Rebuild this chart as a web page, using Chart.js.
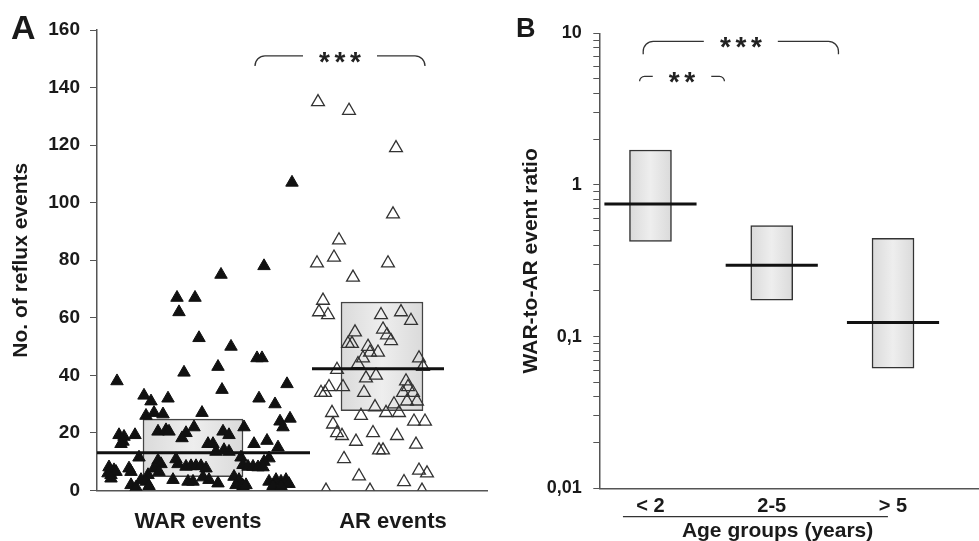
<!DOCTYPE html>
<html>
<head>
<meta charset="utf-8">
<script src="https://cdn.jsdelivr.net/npm/chart.js@4.4.1/dist/chart.umd.min.js"></script>
<style>
  html, body { margin: 0; padding: 0; background: #fff; }
  #wrap { position: relative; width: 979px; height: 541px; }
  #chartA { position: absolute; left: 0; top: 0; }
  #chartB { position: absolute; left: 500px; top: 0; }
</style>
</head>
<body>
<div id="wrap">
  <canvas id="chartA" width="500" height="541"></canvas>
  <canvas id="chartB" width="479" height="541"></canvas>
</div>
<script>
// ---- panel A data: reflux events per patient (x = jitter position) ----
const GROUPS_A = ['WAR events', 'AR events'];
const GROUP_X_A = [101, 296];
const WAR_POINTS = [
  [20, 38], [80, 67], [82, 62], [98, 67], [102, 53], [87, 41], [124, 75], [121, 43], [125, 35], [134, 50],
  [167, 78], [160, 46], [165, 46], [162, 32], [178, 30], [190, 37], [183, 24], [186, 22], [193, 25], [195, 107],
  [47, 33], [54, 31], [71, 32], [49, 26], [57, 27], [66, 26.5], [105, 27], [147, 22], [97, 22],
  [22, 19.3], [27, 18.7], [26, 17], [24, 16.2], [38, 19.3], [61, 20.5], [69, 21], [72, 20.5], [89, 20], [85, 18.2],
  [126, 20.5], [132, 19.3], [111, 16.2], [116, 16.2], [157, 16.2], [170, 17.3], [181, 15],
  [42, 11.5], [119, 13.5], [127, 14.1], [132, 13.5], [144, 11.5], [172, 11.2], [167, 10],
  [61, 10.4], [64, 9.2], [79, 10.9], [81, 9.2], [94, 8.5], [99, 8.5], [104, 8.5], [89, 8.3], [109, 7.7],
  [12, 8.1], [17, 7.1], [14, 5.4], [19, 6.5], [11, 6], [14, 4.2], [32, 7.7], [34, 6.5], [51, 5.4], [57, 7.7], [62, 6.5],
  [146, 8.9], [151, 8.3], [156, 8.3], [161, 8.1], [166, 8.1],
  [76, 3.7], [91, 3.1], [96, 3.1], [106, 4.6], [112, 3.7], [121, 2.5],
  [34, 1.9], [39, 1.1], [44, 3.7], [49, 3.1], [52, 1.6],
  [137, 4.8], [142, 3.7], [139, 1.9], [146, 1.6], [149, 1.9],
  [172, 3.1], [179, 3.7], [184, 3.1], [189, 3.7], [192, 2.3], [176, 1.6], [184, 1.6]
];
const AR_POINTS = [
  [221, 135], [252, 132], [299, 119], [296, 96], [242, 87], [220, 79], [237, 81], [291, 79], [256, 74], [226, 66],
  [222, 62], [231, 61], [284, 61], [304, 62], [314, 59], [258, 55], [286, 56], [290, 54], [294, 52], [251, 51],
  [255, 51], [271, 50], [273, 48], [281, 48], [266, 46], [322, 46], [261, 44], [326, 43], [240, 42], [269, 39],
  [279, 40], [232, 36], [224, 34], [228, 34], [246, 36], [267, 34], [309, 38], [311, 36], [306, 34], [316, 34],
  [310, 31], [320, 31], [297, 30], [278, 29], [289, 27], [302, 27], [264, 26], [235, 27], [236, 23], [317, 24],
  [328, 24], [240, 20], [245, 19], [276, 20], [300, 19], [259, 17], [282, 14], [286, 14], [319, 16], [247, 11],
  [262, 5], [307, 3], [322, 7], [330, 6], [229, 0], [273, 0], [325, 0]
];
const BOX_X_A = [96, 285];
const BOX_A = [[4.8, 24.8], [27.7, 65.5]];
const MEDIAN_A = [13.1, 42.3];
const MEDIAN_SPAN_A = [[0, 213], [215, 347]];
const SIG_A = [{ from: 158, to: 328, y: 151, label: '***' }];

// ---- panel B data: WAR-to-AR ratio by age group ----
const AGE_GROUPS = ['< 2', '2-5', '> 5'];
const AGE_X = [1, 2, 3];
const BOX_B = [[0.424, 1.70], [0.174, 0.54], [0.0619, 0.445]];
const MEDIAN_B = [0.75, 0.296, 0.124];
const DECADES = [0.01, 0.1, 1, 10];
const DECADE_LABELS = ['0,01', '0,1', '1', '10'];
const SIG_B = [
  { from: 0.94, to: 2.55, y: 8.85, label: '***' },
  { from: 0.91, to: 1.61, y: 5.2, label: '**' }
];

const FONT = '"Liberation Sans", Arial, sans-serif';
const INK = '#1a1a1a';
const AXIS = '#555';
Chart.defaults.font.family = FONT;
Chart.defaults.color = INK;

function boxFill(ctx, center, width) {
  const chart = ctx.chart;
  if (!chart.chartArea) return '#e4e4e4';
  const px = chart.scales.x.getPixelForValue(center);
  const g = chart.ctx.createLinearGradient(px - width / 2, 0, px + width / 2, 0);
  g.addColorStop(0, '#dadada');
  g.addColorStop(0.5, '#eeeeee');
  g.addColorStop(1, '#dadada');
  return g;
}

function drawBracket(ctx, x1, x2, y, drop, radius, label) {
  const r = Math.min(radius, drop);
  const cx = (x1 + x2) / 2;
  const pitch = 15.5;
  const half = (label.length - 1) / 2 * pitch + 21.5;
  ctx.save();
  ctx.strokeStyle = '#333';
  ctx.lineWidth = 1.3;
  ctx.beginPath();
  ctx.moveTo(x1, y + drop);
  ctx.lineTo(x1, y + r);
  ctx.arcTo(x1, y, x1 + r, y, r);
  ctx.lineTo(cx - half, y);
  ctx.moveTo(cx + half, y);
  ctx.lineTo(x2 - r, y);
  ctx.arcTo(x2, y, x2, y + r, r);
  ctx.lineTo(x2, y + drop);
  ctx.stroke();
  ctx.fillStyle = '#222';
  ctx.font = 'bold 28px ' + FONT;
  ctx.textAlign = 'center';
  ctx.textBaseline = 'alphabetic';
  for (let i = 0; i < label.length; i++) {
    ctx.fillText(label[i], cx + (i - (label.length - 1) / 2) * pitch, y + 15);
  }
  ctx.restore();
}

const panelA = {
  id: 'panelA',
  afterDraw(chart) {
    const { ctx, scales: { x, y } } = chart;
    SIG_A.forEach(s => drawBracket(ctx, x.getPixelForValue(s.from), x.getPixelForValue(s.to), y.getPixelForValue(s.y), 10, 10, s.label));
    ctx.save();
    ctx.fillStyle = INK;
    ctx.font = 'bold 34px ' + FONT;
    ctx.textAlign = 'left';
    ctx.fillText('A', 11, 39);
    ctx.restore();
  }
};

const panelB = {
  id: 'panelB',
  afterDraw(chart) {
    const { ctx, scales: { x, y } } = chart;
    const drops = [13, 5];
    const radii = [10, 6];
    SIG_B.forEach((s, i) => drawBracket(ctx, x.getPixelForValue(s.from), x.getPixelForValue(s.to), y.getPixelForValue(s.y), drops[i], radii[i], s.label));
    ctx.save();
    ctx.fillStyle = INK;
    ctx.font = 'bold 27px ' + FONT;
    ctx.textAlign = 'left';
    ctx.fillText('B', 16, 37);
    // underline + title of the age axis
    const base = x.top;
    ctx.strokeStyle = '#333';
    ctx.lineWidth = 1.3;
    ctx.beginPath();
    ctx.moveTo(x.getPixelForValue(0.773), base + 28.4);
    ctx.lineTo(x.getPixelForValue(2.958), base + 28.4);
    ctx.stroke();
    ctx.font = 'bold 21px ' + FONT;
    ctx.textAlign = 'center';
    ctx.textBaseline = 'middle';
    ctx.fillText('Age groups (years)', x.getPixelForValue(2.048), base + 43);
    ctx.restore();
  }
};

// ---------------- Panel A ----------------
new Chart(document.getElementById('chartA'), {
  type: 'scatter',
  data: {
    datasets: [
      ...MEDIAN_A.map((m, i) => ({
        type: 'line',
        data: MEDIAN_SPAN_A[i].map(v => ({ x: v, y: m })),
        borderColor: '#111',
        borderWidth: 3,
        pointRadius: 0,
        order: 0
      })),
      {
        label: 'WAR',
        data: WAR_POINTS.map(([x, y]) => ({ x, y })),
        pointStyle: 'triangle',
        pointRadius: 7.2,
        backgroundColor: '#111',
        borderColor: '#111',
        borderWidth: 1,
        order: 1
      },
      {
        label: 'AR',
        data: AR_POINTS.map(([x, y]) => ({ x, y })),
        pointStyle: 'triangle',
        pointRadius: 7.4,
        backgroundColor: 'rgba(255,255,255,0)',
        borderColor: '#333',
        borderWidth: 1.3,
        order: 1
      },
      ...BOX_A.map((b, i) => ({
        type: 'bar',
        data: [{ x: BOX_X_A[i], y: b }],
        grouped: false,
        barThickness: [100, 82][i],
        backgroundColor: ctx => boxFill(ctx, BOX_X_A[i], [100, 82][i]),
        borderColor: '#444',
        borderWidth: 1.5,
        borderSkipped: false,
        order: 2
      }))
    ]
  },
  options: {
    responsive: false,
    animation: false,
    devicePixelRatio: 1,
    layout: { padding: { top: 30, right: 13, left: 0, bottom: 0 } },
    plugins: { legend: { display: false }, tooltip: { enabled: false } },
    scales: {
      x: {
        type: 'linear',
        min: 0,
        max: 390,
        offset: false,
        afterBuildTicks: s => { s.ticks = GROUP_X_A.map(v => ({ value: v })); },
        afterFit: s => { s.height = 50.5; },
        grid: { display: false, drawTicks: false, offset: false },
        border: { display: true, color: AXIS, width: 1.5 },
        ticks: {
          autoSkip: false,
          maxRotation: 0,
          padding: 18,
          color: INK,
          font: { size: 22, weight: 'bold' },
          callback: (v, i) => GROUPS_A[i]
        }
      },
      y: {
        min: 0,
        max: 160,
        afterFit: s => { s.width = 97; },
        grid: { drawOnChartArea: false, tickLength: 7, color: AXIS },
        border: { color: AXIS, width: 1.5 },
        ticks: { stepSize: 20, padding: 10, color: INK, font: { size: 19, weight: 'bold' } },
        title: {
          display: true,
          text: 'No. of reflux events',
          color: INK,
          padding: { top: 9, bottom: 0 },
          font: { size: 21, weight: 'bold' }
        }
      }
    }
  },
  plugins: [panelA]
});

// ---------------- Panel B ----------------
const MEDIAN_HALF_B = 0.38;
new Chart(document.getElementById('chartB'), {
  type: 'scatter',
  data: {
    datasets: [
      ...MEDIAN_B.map((m, i) => ({
        type: 'line',
        data: [{ x: AGE_X[i] - MEDIAN_HALF_B, y: m }, { x: AGE_X[i] + MEDIAN_HALF_B, y: m }],
        borderColor: '#111',
        borderWidth: 3,
        pointRadius: 0,
        order: 0
      })),
      {
        type: 'bar',
        data: AGE_X.map((x, i) => ({ x, y: BOX_B[i] })),
        grouped: false,
        barThickness: 42,
        backgroundColor: ctx => boxFill(ctx, AGE_X[ctx.dataIndex], 42),
        borderColor: '#333',
        borderWidth: 1.5,
        borderSkipped: false,
        order: 1
      }
    ]
  },
  options: {
    responsive: false,
    animation: false,
    devicePixelRatio: 1,
    layout: { padding: { top: 33.3, right: 0, left: 0, bottom: 0 } },
    plugins: { legend: { display: false }, tooltip: { enabled: false } },
    scales: {
      x: {
        type: 'linear',
        min: 0.578,
        max: 3.709,
        offset: false,
        afterBuildTicks: s => { s.ticks = AGE_X.map(v => ({ value: v })); },
        afterFit: s => { s.height = 52.7; },
        grid: { display: false, drawTicks: false, offset: false },
        border: { display: true, color: AXIS, width: 1.5 },
        ticks: {
          autoSkip: false,
          maxRotation: 0,
          padding: 6.5,
          color: INK,
          font: { size: 20, weight: 'bold' },
          callback: (v, i) => AGE_GROUPS[i]
        }
      },
      y: {
        type: 'logarithmic',
        min: 0.01,
        max: 10,
        afterBuildTicks: s => {
          const t = [];
          DECADES.slice(0, -1).forEach(d => { for (let k = 1; k < 10; k++) t.push({ value: d * k }); });
          t.push({ value: DECADES[DECADES.length - 1] });
          s.ticks = t;
        },
        afterFit: s => { s.width = 99.3; },
        grid: { drawOnChartArea: false, tickLength: 6, color: AXIS },
        border: { color: AXIS, width: 1.5 },
        ticks: {
          autoSkip: false,
          padding: 11.6,
          color: INK,
          font: { size: 18, weight: 'bold' },
          callback: v => {
            const i = DECADES.findIndex(d => Math.abs(d - v) < d * 1e-6);
            return i >= 0 ? DECADE_LABELS[i] : '';
          }
        },
        title: {
          display: true,
          text: 'WAR-to-AR event ratio',
          color: INK,
          padding: { top: 19, bottom: 0 },
          font: { size: 21, weight: 'bold' }
        }
      }
    }
  },
  plugins: [panelB]
});
</script>
</body>
</html>
